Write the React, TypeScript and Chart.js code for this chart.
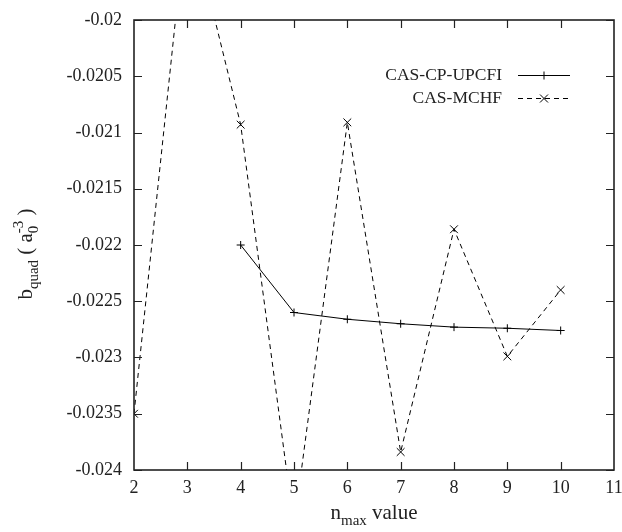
import React, { useEffect, useRef } from 'react';
import { Chart, registerables } from 'chart.js';

Chart.register(...registerables);

// ---- data ----
const seriesLabels = ['CAS-CP-UPCFI', 'CAS-MCHF'];
const upcfiN = [4, 5, 6, 7, 8, 9, 10];
const upcfiB = [-0.02200, -0.02260, -0.02266, -0.02270, -0.02273, -0.02274, -0.02276];
const mchfN = [2, 3, 4, 5, 6, 7, 8, 9, 10];
const mchfB = [-0.02350, -0.01900, -0.02093, -0.02450, -0.02091, -0.02384, -0.02186, -0.02299, -0.02240];
const xTicks = [2, 3, 4, 5, 6, 7, 8, 9, 10, 11];
const yTicks = [-0.024, -0.0235, -0.023, -0.0225, -0.022, -0.0215, -0.021, -0.0205, -0.02];

const FONT = "'Liberation Serif', 'DejaVu Serif', serif";
const INK = '#222';

const framePlugin = {
  id: 'gnuFrame',
  afterDatasetsDraw(chart: any) {
    const { ctx, chartArea: a, scales } = chart;
    ctx.save();
    ctx.strokeStyle = INK;
    ctx.lineWidth = 1.2;
    const tl = 8;
    ctx.beginPath();
    xTicks.forEach((v) => {
      const px = Math.round(scales.x.getPixelForValue(v)) + 0.5;
      if (v === xTicks[0] || v === xTicks[xTicks.length - 1]) return;
      ctx.moveTo(px, a.bottom);
      ctx.lineTo(px, a.bottom - tl);
      ctx.moveTo(px, a.top);
      ctx.lineTo(px, a.top + tl);
    });
    yTicks.forEach((v) => {
      const py = Math.round(scales.y.getPixelForValue(v)) + 0.5;
      ctx.moveTo(a.left, py);
      ctx.lineTo(a.left + tl, py);
      ctx.moveTo(a.right, py);
      ctx.lineTo(a.right - tl, py);
    });
    ctx.stroke();
    ctx.lineWidth = 1.6;
    ctx.strokeRect(a.left, a.top, a.right - a.left, a.bottom - a.top);

    // legend
    const items = [
      { label: seriesLabels[0], y: 75, dash: [] as number[], cross: true },
      { label: seriesLabels[1], y: 98, dash: [5, 4], cross: false },
    ];
    ctx.font = `17.5px ${FONT}`;
    ctx.fillStyle = INK;
    ctx.textAlign = 'right';
    ctx.textBaseline = 'middle';
    items.forEach((it) => {
      ctx.fillText(it.label, 502, it.y);
      ctx.lineWidth = 1;
      ctx.strokeStyle = '#000';
      ctx.setLineDash(it.dash);
      ctx.beginPath();
      ctx.moveTo(518, it.y + 0.5);
      ctx.lineTo(570, it.y + 0.5);
      ctx.stroke();
      ctx.setLineDash([]);
      ctx.beginPath();
      const cx = 544, cy = it.y + 0.5;
      if (it.cross) {
        ctx.moveTo(cx - 4, cy); ctx.lineTo(cx + 4, cy);
        ctx.moveTo(cx, cy - 4); ctx.lineTo(cx, cy + 4);
      } else {
        ctx.moveTo(cx - 4, cy - 4); ctx.lineTo(cx + 4, cy + 4);
        ctx.moveTo(cx - 4, cy + 4); ctx.lineTo(cx + 4, cy - 4);
      }
      ctx.stroke();
    });

    // x axis title: n_max value
    const mainF = `21px ${FONT}`;
    const subF = `15px ${FONT}`;
    ctx.textAlign = 'left';
    ctx.textBaseline = 'alphabetic';
    ctx.font = mainF;
    const wN = ctx.measureText('n').width;
    const wV = ctx.measureText(' value').width;
    ctx.font = subF;
    const wM = ctx.measureText('max').width;
    const total = wN + wM + wV;
    let x0 = (a.left + a.right) / 2 - total / 2;
    const by = 519;
    ctx.font = mainF; ctx.fillText('n', x0, by); x0 += wN;
    ctx.font = subF; ctx.fillText('max', x0, by + 6); x0 += wM;
    ctx.font = mainF; ctx.fillText(' value', x0, by);

    // y axis title: b_quad ( a_0^-3 )
    const parts = [
      { t: 'b', f: mainF, dy: 0 },
      { t: 'quad', f: subF, dy: 6 },
      { t: ' ( a', f: mainF, dy: 0 },
      { t: '0', f: subF, dy: 6 },
      { t: '-3', f: subF, dy: -9 },
      { t: ' )', f: mainF, dy: 0 },
    ];
    const widths = parts.map((p) => { ctx.font = p.f; return ctx.measureText(p.t).width; });
    // superscript stacked over subscript: advance only by max
    const wSub0 = widths[3], wSup = widths[4];
    const totalY = widths[0] + widths[1] + widths[2] + Math.max(wSub0, wSup) + widths[5];
    ctx.translate(32, (a.top + a.bottom) / 2 + 9);
    ctx.rotate(-Math.PI / 2);
    let lx = -totalY / 2;
    ctx.font = parts[0].f; ctx.fillText(parts[0].t, lx, 0); lx += widths[0];
    ctx.font = parts[1].f; ctx.fillText(parts[1].t, lx, 6); lx += widths[1];
    ctx.font = parts[2].f; ctx.fillText(parts[2].t, lx, 0); lx += widths[2];
    ctx.font = subF; ctx.fillText('0', lx, 6); ctx.fillText('-3', lx, -9); lx += Math.max(wSub0, wSup);
    ctx.font = mainF; ctx.fillText(parts[5].t, lx, 0);
    ctx.restore();
  },
};

export default function App() {
  const ref = useRef<HTMLCanvasElement | null>(null);
  useEffect(() => {
    if (!ref.current) return;
    const chart = new Chart(ref.current, {
      type: 'line',
      data: {
        datasets: [
          {
            label: seriesLabels[0],
            data: upcfiN.map((n, i) => ({ x: n, y: upcfiB[i] })),
            borderColor: '#000',
            borderWidth: 1,
            pointStyle: 'cross',
            pointRadius: 4,
            pointBorderColor: '#000',
            pointBorderWidth: 1,
            fill: false,
            tension: 0,
          },
          {
            label: seriesLabels[1],
            data: mchfN.map((n, i) => ({ x: n, y: mchfB[i] })),
            borderColor: '#000',
            borderWidth: 1,
            borderDash: [5, 4],
            pointStyle: 'crossRot',
            pointRadius: 5.5,
            pointBorderColor: '#000',
            pointBorderWidth: 1,
            fill: false,
            tension: 0,
          },
        ],
      },
      options: {
        animation: false,
        responsive: false,
        layout: { padding: { left: 0, right: 8, top: 20, bottom: 0 } },
        plugins: { legend: { display: false }, tooltip: { enabled: false } },
        scales: {
          x: {
            type: 'linear',
            min: 2,
            max: 11,
            grid: { display: false, drawTicks: false },
            border: { display: false },
            afterBuildTicks: (s: any) => { s.ticks = xTicks.map((v) => ({ value: v })); },
            afterFit: (s: any) => { s.height = 62; s.paddingLeft = 0; s.paddingRight = 0; },
            ticks: {
              padding: 7,
              color: INK,
              font: { family: FONT, size: 18 },
              maxRotation: 0,
              autoSkip: false,
              callback: (v: any) => String(v),
            },
          },
          y: {
            type: 'linear',
            min: -0.024,
            max: -0.02,
            grid: { display: false, drawTicks: false },
            border: { display: false },
            afterBuildTicks: (s: any) => { s.ticks = yTicks.map((v) => ({ value: v })); },
            afterFit: (s: any) => { s.width = 134; s.paddingTop = 0; s.paddingBottom = 0; },
            ticks: {
              padding: 12,
              color: INK,
              font: { family: FONT, size: 18 },
              autoSkip: false,
              callback: (v: any) => String(Number(Number(v).toPrecision(3))),
            },
          },
        },
      },
      plugins: [framePlugin],
    });
    return () => chart.destroy();
  }, []);
  return (
    <div style={{ position: 'fixed', left: 0, top: 0, width: 622, height: 532, background: '#fff' }}>
      <canvas ref={ref} width={622} height={532} style={{ width: 622, height: 532 }} />
    </div>
  );
}
